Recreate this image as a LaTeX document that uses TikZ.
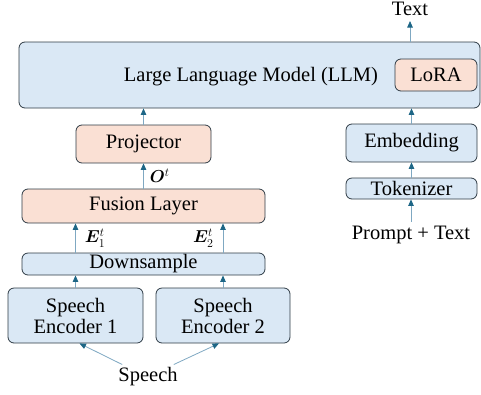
\documentclass[tikz,border=0pt]{standalone}
\usepackage{amsmath}
\usepackage{amssymb}
\usepackage{bm}
\usepackage{fontspec}
\setmainfont{Liberation Serif}
\newfontfamily\diagfont{Liberation Serif}
\usetikzlibrary{arrows.meta}

\definecolor{blockblue}{HTML}{DAE8F5}
\definecolor{blockorange}{HTML}{FAE0D4}
\definecolor{blockline}{HTML}{2E3B45}
\definecolor{arrline}{HTML}{7FA8C2}
\definecolor{arrhead}{HTML}{1D6686}

\begin{document}
\begin{tikzpicture}[x=1pt,y=-1pt]
\tikzstyle{every node}+=[inner sep=0pt, text=black, font=\diagfont\fontsize{20.5}{23}\selectfont]
\tikzstyle{blk}=[draw=blockline, line width=0.8pt, rounded corners=6pt, align=center]
\tikzstyle{bluebox}=[blk, fill=blockblue]
\tikzstyle{orangebox}=[blk, fill=blockorange]
\tikzstyle{mathlabel}=[font=\fontsize{18.5}{20}\selectfont]
\tikzstyle{flow}=[arrline, line width=0.8pt, -{Triangle[length=6.5pt,width=5.5pt,color=arrhead]}]
\useasboundingbox (0,0) rectangle (481,394);
% top: LLM with LoRA
\node [bluebox, minimum width=461pt, minimum height=66pt] (llm) at (249.5,75) {};
\node (llmtext) at (251,77) {Large Language Model (LLM)};
\node [orangebox, minimum width=82pt, minimum height=32pt] (lora) at (436,75) {LoRA};
\node (out) at (410,9) {Text};
% speech branch
\node [orangebox, minimum width=135pt, minimum height=38pt] (proj) at (143.5,144) {Projector};
\node [orangebox, minimum width=243pt, minimum height=34pt] (fusion) at (143.5,206) {Fusion Layer};
\node [bluebox, minimum width=243pt, minimum height=22pt] (down) at (143.5,264) {Downsample};
\node [bluebox, minimum width=135pt, minimum height=55pt] (enc1) at (75.5,315.5) {Speech\\[-2pt]Encoder 1};
\node [bluebox, minimum width=134pt, minimum height=55pt] (enc2) at (223,315.5) {Speech\\[-2pt]Encoder 2};
\node (speech) at (148,377) {Speech};
% text branch
\node [bluebox, minimum width=131pt, minimum height=38pt] (embed) at (411.5,143) {Embedding};
\node [bluebox, minimum width=131pt, minimum height=21pt] (tok) at (411.5,188.5) {Tokenizer};
\node (prompt) at (411,235) {Prompt + Text};
% connectors
\draw [flow] (speech.north west) ++(4,-3) coordinate (s1) (s1) -- ([xshift=4pt]enc1.south);
\draw [flow] (speech.north east) ++(-4,-3) coordinate (s2) (s2) -- ([xshift=-4pt]enc2.south);
\draw [flow] (enc1.north) -- (enc1.north |- down.south);
\draw [flow] (enc2.north) -- (enc2.north |- down.south);
\draw [flow] (enc1.north |- down.north) -- node [mathlabel, right=9pt] {$\bm{E}_1^t$} (enc1.north |- fusion.south);
\draw [flow] (enc2.north |- down.north) -- node [mathlabel, left=9pt] {$\bm{E}_2^t$} (enc2.north |- fusion.south);
\draw [flow] (fusion.north) -- node [mathlabel, right=6pt] {$\bm{O}^t$} (proj.south);
\draw [flow] (proj.north) -- (proj.north |- llm.south);
\draw [flow] (prompt.north) ++(0,-4) coordinate (p1) (p1) -- (p1 |- tok.south);
\draw [flow] (tok.north) -- (embed.south);
\draw [flow] (embed.north) -- (embed.north |- llm.south);
\draw [flow] (out.south |- llm.north) -- ([yshift=-5pt]out.south);
\end{tikzpicture}
\end{document}
